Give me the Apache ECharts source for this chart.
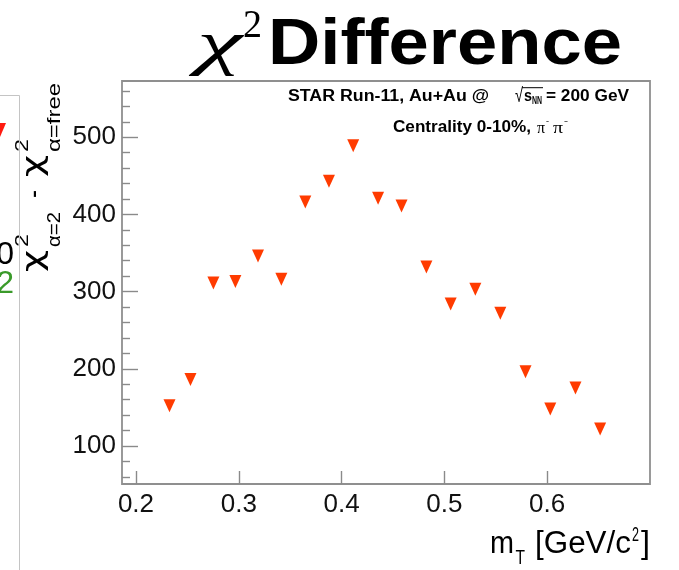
<!DOCTYPE html>
<html>
<head>
<meta charset="utf-8">
<script src="https://cdn.jsdelivr.net/npm/echarts@6/dist/echarts.min.js"></script>
<style>
  html, body { margin: 0; padding: 0; background: #ffffff; }
  #chart { width: 679px; height: 570px; }
</style>
</head>
<body>
<div id="chart"></div>
<script>
// Transverse-mass bins [GeV/c^2] and chi^2 difference per bin
const mT = [0.2326, 0.2530, 0.2753, 0.2967, 0.3187, 0.3414, 0.3647, 0.3877, 0.4113, 0.4355,
            0.4583, 0.4825, 0.5061, 0.5301, 0.5544, 0.5789, 0.6030, 0.6275, 0.6515];
const chi2Diff = [152, 186, 311, 313, 346, 316, 416, 443, 489, 421,
                  411, 332, 284, 303, 272, 196, 148, 175, 122];

// Axis ticks
const xTicks = [0.2, 0.3, 0.4, 0.5, 0.6];
const yMajorTicks = [100, 200, 300, 400, 500];
const yMinorTicks = [60, 80, 120, 140, 160, 180, 220, 240, 260, 280, 320, 340, 360, 380,
                     420, 440, 460, 480, 520, 540, 560];

const X_MIN = 0.1864, X_MAX = 0.7;
const Y_MIN = 50.7, Y_MAX = 572.9;

const SANS = '"Liberation Sans", Arial, sans-serif';
const SERIF = '"Liberation Serif", "Times New Roman", serif';
const GREEK = '"DejaVu Sans", sans-serif';

// text width helper so each label piece can be fitted between two x positions
const mctx = document.createElement('canvas').getContext('2d');
function textWidth(str, font) { mctx.font = font; return mctx.measureText(str).width; }

function piece(str, x0, x1, yMid, font, fill) {
  const w = textWidth(str, font);
  return {
    type: 'text',
    x: x0, y: yMid,
    scaleX: (x1 - x0) / w,
    silent: true,
    style: {
      text: str, font: font, fill: fill || '#000',
      textAlign: 'left', align: 'left',
      textVerticalAlign: 'middle', verticalAlign: 'middle'
    }
  };
}

const graphics = [];

// Title
graphics.push(piece('\u03c7', 197, 242, 47, 'italic 62px ' + SERIF));
graphics.push(piece('2', 243, 262, 26, '40px ' + SERIF));
graphics.push(piece('Difference', 268, 622, 46, 'bold 64px ' + SANS));

// Collision system annotation
graphics.push(piece('STAR Run-11, Au+Au @', 288, 489, 97, 'bold 16px ' + SANS));
graphics.push(piece('\u221a', 515, 523, 96, '20px ' + SANS));
graphics.push({ type: 'line', silent: true,
  shape: { x1: 522, y1: 87.7, x2: 543, y2: 87.7 }, style: { stroke: '#000', lineWidth: 1 } });
graphics.push(piece('s', 524, 532, 97, 'bold 16px ' + SANS));
graphics.push(piece('NN', 532, 542, 101.5, 'bold 10px ' + SANS));
graphics.push(piece('= 200 GeV', 546, 629, 97, 'bold 16px ' + SANS));
graphics.push(piece('Centrality 0-10%,', 393, 531, 128, 'bold 16px ' + SANS));
graphics.push(piece('\u03c0', 537, 545, 128.5, '17px ' + SERIF));
graphics.push(piece('-', 546, 549, 122, '9px ' + SERIF));
graphics.push(piece('\u03c0', 553, 563, 128.5, '17px ' + SERIF));
graphics.push(piece('-', 564, 568, 122, '9px ' + SERIF));

// x-axis title: m_T [GeV/c^2]
graphics.push(piece('m', 490, 514, 544, '31px ' + SANS));
graphics.push(piece('T', 515.5, 525, 558, '20px ' + SANS));
graphics.push(piece('[GeV/c', 535, 631, 544, '31px ' + SANS));
graphics.push(piece('2', 632, 639, 535, '20px ' + SANS));
graphics.push(piece(']', 641, 650, 544, '31px ' + SANS));

// y-axis title: chi^2_{alpha=2} - chi^2_{alpha=free}, reading bottom to top
graphics.push({
  type: 'group', x: 0, y: 272, rotation: Math.PI / 2, silent: true,
  children: [
    piece('\u03c7', 0, 22, 35, '28px ' + GREEK),
    piece('2', 25, 38, 23, '18px ' + SANS),
    piece('\u03b1=2', 25, 60, 55, '19px ' + SANS),
    piece('-', 74, 82, 34.5, '28px ' + SANS),
    piece('\u03c7', 95, 117, 35, '28px ' + GREEK),
    piece('2', 120, 133, 23, '18px ' + SANS),
    piece('\u03b1=free', 120, 189, 55, '19px ' + SANS)
  ]
});

// neighbouring legend box at the left edge
graphics.push({ type: 'polyline', silent: true,
  shape: { points: [[0, 95.5], [19.5, 95.5], [19.5, 570]] },
  style: { stroke: '#c4c4c4', lineWidth: 1, fill: null } });
graphics.push({ type: 'polygon', silent: true,
  shape: { points: [[-6, 123], [6, 123], [0, 137]] },
  style: { fill: '#ff1a10' } });
graphics.push({ type: 'text', x: 14, y: 255, silent: true,
  style: { text: '0', font: '32px ' + SANS, fill: '#000', textAlign: 'right', align: 'right',
           textVerticalAlign: 'middle', verticalAlign: 'middle' } });
graphics.push({ type: 'text', x: 14, y: 284, silent: true,
  style: { text: '2', font: '32px ' + SANS, fill: '#3a9a2a', textAlign: 'right', align: 'right',
           textVerticalAlign: 'middle', verticalAlign: 'middle' } });

const tickColor = '#8a8a8a';

const option = {
  animation: false,
  backgroundColor: '#ffffff',
  grid: {
    left: 122, right: 29, top: 81, bottom: 86,
    show: true, borderColor: '#8f8f8f', borderWidth: 1.8, backgroundColor: 'transparent'
  },
  xAxis: {
    type: 'value', min: X_MIN, max: X_MAX,
    axisLine: { show: false },
    splitLine: { show: false },
    axisTick: { show: true, inside: true, length: 13, customValues: xTicks,
                lineStyle: { color: tickColor, width: 1.4 } },
    axisLabel: { show: true, customValues: xTicks, margin: 8,
                 formatter: v => Number(v).toFixed(1),
                 fontSize: 26, fontFamily: SANS, color: '#111' }
  },
  yAxis: [
    {
      type: 'value', min: Y_MIN, max: Y_MAX,
      axisLine: { show: false },
      splitLine: { show: false },
      axisTick: { show: true, inside: true, length: 16, customValues: yMajorTicks,
                  lineStyle: { color: tickColor, width: 1.4 } },
      axisLabel: { show: true, customValues: yMajorTicks, margin: 6,
                   fontSize: 26, fontFamily: SANS, color: '#111' }
    },
    {
      type: 'value', min: Y_MIN, max: Y_MAX, position: 'left',
      axisLine: { show: false },
      splitLine: { show: false },
      axisLabel: { show: false },
      axisTick: { show: true, inside: true, length: 8, customValues: yMinorTicks,
                  lineStyle: { color: tickColor, width: 1.4 } }
    }
  ],
  series: [{
    type: 'scatter',
    yAxisIndex: 0,
    symbol: 'triangle',
    symbolRotate: 180,
    symbolSize: [12, 13],
    itemStyle: { color: '#ff3b00', opacity: 1 },
    data: mT.map((x, i) => [x, chi2Diff[i]])
  }],
  graphic: { elements: graphics }
};

const chart = echarts.init(document.getElementById('chart'), null, { renderer: 'canvas' });
chart.setOption(option);
</script>
</body>
</html>
